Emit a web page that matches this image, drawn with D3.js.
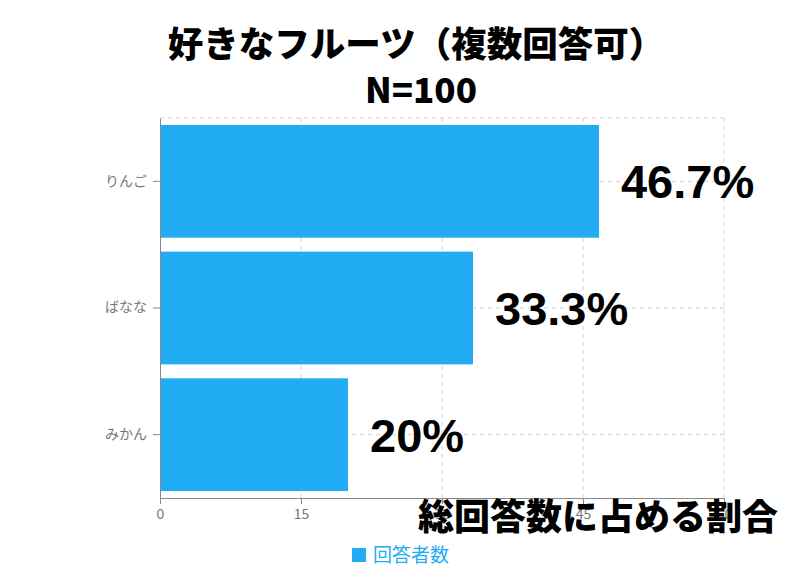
<!DOCTYPE html>
<html>
<head>
<meta charset="utf-8">
<script src="https://cdn.jsdelivr.net/npm/d3@7"></script>
<style>
  body { margin: 0; background: #fff; }
  text { font-family: "Noto Sans CJK JP", "Noto Sans", sans-serif; }
</style>
</head>
<body>
<div id="chart"></div>
<script>
// data
var categories = ["りんご", "ばなな", "みかん"];
var values = [46.7, 33.3, 20];
var labels = ["46.7%", "33.3%", "20%"];
var ticks = [0, 15, 30, 45, 60];

var w = 808, h = 588;
var plotLeft = 160, plotRight = 724, plotTop = 118, plotBottom = 498;
var barColor = "#22acf4";

var svg = d3.select("#chart").append("svg")
  .attr("width", w)
  .attr("height", h);

var x = d3.scaleLinear().domain([0, 60]).range([plotLeft, plotRight]);
var y = d3.scaleBand().domain(categories).range([plotTop, plotBottom])
  .paddingInner(0.11).paddingOuter(0.055);

// grid
var grid = svg.append("g")
  .attr("stroke", "#d0d0d0")
  .attr("stroke-dasharray", "4,4");
grid.selectAll(".gx")
  .data(ticks.slice(1))
  .enter().append("line")
  .attr("x1", function(d) { return x(d); })
  .attr("x2", function(d) { return x(d); })
  .attr("y1", plotTop)
  .attr("y2", plotBottom);
grid.selectAll(".gy")
  .data(categories)
  .enter().append("line")
  .attr("x1", plotLeft)
  .attr("x2", plotRight)
  .attr("y1", function(d) { return y(d) + y.bandwidth() / 2; })
  .attr("y2", function(d) { return y(d) + y.bandwidth() / 2; });
grid.append("line")
  .attr("x1", plotLeft).attr("x2", plotRight)
  .attr("y1", plotTop).attr("y2", plotTop);

// bars
svg.selectAll("rect.bar")
  .data(values)
  .enter().append("rect")
  .attr("class", "bar")
  .attr("x", x(0))
  .attr("y", function(d, i) { return y(categories[i]); })
  .attr("width", function(d) { return x(d) - x(0); })
  .attr("height", y.bandwidth())
  .attr("fill", barColor);

// axes
var xAxis = svg.append("g")
  .attr("transform", "translate(0," + plotBottom + ")")
  .call(d3.axisBottom(x).tickValues(ticks).tickSize(6).tickSizeOuter(0).tickPadding(5));
var yAxis = svg.append("g")
  .attr("transform", "translate(" + plotLeft + ",0)")
  .call(d3.axisLeft(y).tickSize(7).tickSizeOuter(0).tickPadding(6));
[xAxis, yAxis].forEach(function(a) {
  a.select(".domain").attr("stroke", "#888");
  a.selectAll(".tick line").attr("stroke", "#888");
  a.selectAll(".tick text")
    .attr("fill", "#777")
    .style("font-family", "'Noto Sans CJK JP', sans-serif")
    .style("font-size", "14px");
});

// value labels
svg.selectAll("text.val")
  .data(values)
  .enter().append("text")
  .attr("class", "val")
  .attr("x", function(d) { return x(d) + 22; })
  .attr("y", function(d, i) { return y(categories[i]) + y.bandwidth() / 2; })
  .attr("dy", "0.36em")
  .style("font-family", "'Liberation Sans', Arial, sans-serif")
  .style("font-weight", "bold")
  .style("font-size", "47px")
  .attr("fill", "#000")
  .text(function(d, i) { return labels[i]; });

// title
svg.append("text")
  .attr("x", 416).attr("y", 57)
  .attr("text-anchor", "middle")
  .style("font-weight", "900")
  .style("font-size", "35.5px")
  .text("好きなフルーツ（複数回答可）");
svg.append("text")
  .attr("x", 421).attr("y", 103)
  .attr("text-anchor", "middle")
  .style("font-weight", "900")
  .style("font-size", "35px")
  .text("N=100");

// caption
svg.append("text")
  .attr("x", 418).attr("y", 530)
  .style("font-weight", "900")
  .style("font-size", "36px")
  .text("総回答数に占める割合");

// legend
svg.append("rect")
  .attr("x", 352).attr("y", 548)
  .attr("width", 14).attr("height", 14)
  .attr("fill", barColor);
svg.append("text")
  .attr("x", 373).attr("y", 562)
  .style("font-size", "19px")
  .attr("fill", barColor)
  .text("回答者数");
</script>
</body>
</html>
